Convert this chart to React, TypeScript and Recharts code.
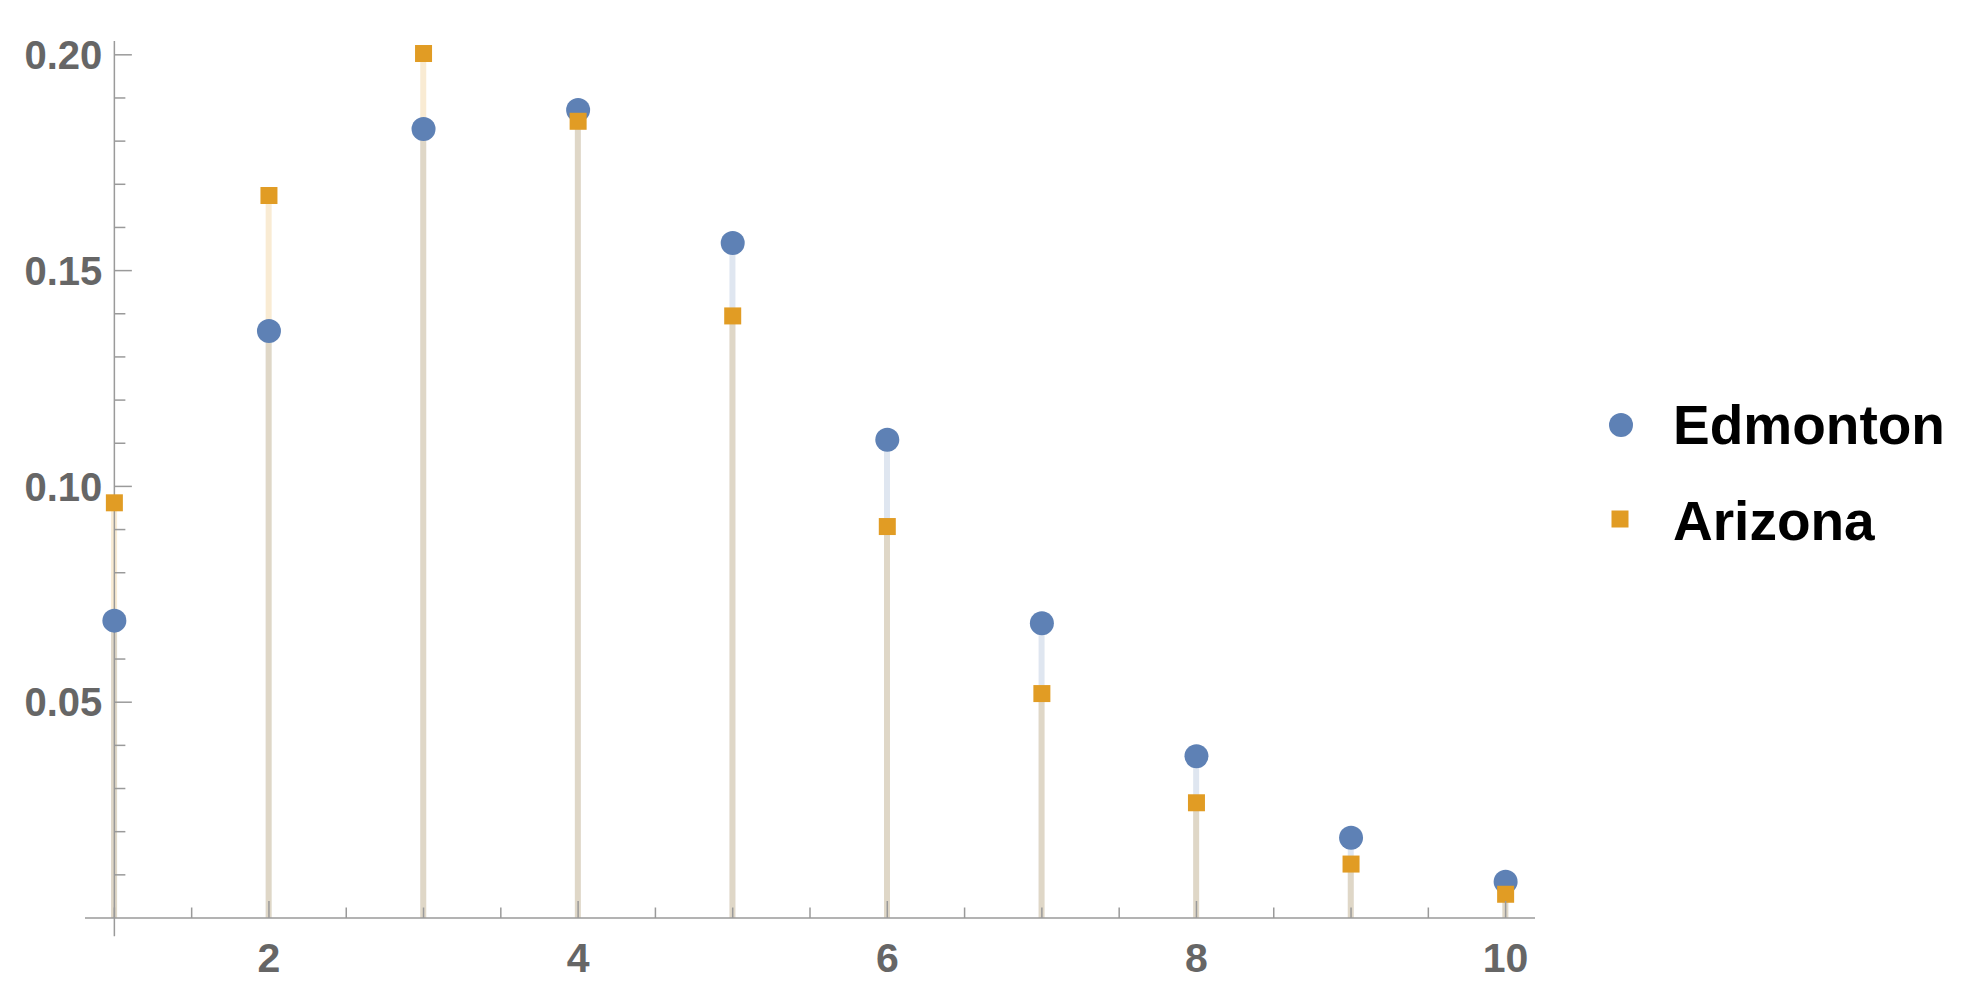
import React from 'react';
import { ComposedChart, XAxis, YAxis, Bar, Scatter, ReferenceLine } from 'recharts';

const xValues = [1, 2, 3, 4, 5, 6, 7, 8, 9, 10];
const edmonton = [0.0689, 0.136, 0.1828, 0.1872, 0.1564, 0.1108, 0.0683, 0.0375, 0.0186, 0.0084];
const arizona = [0.0962, 0.1674, 0.2003, 0.1846, 0.1395, 0.0907, 0.052, 0.0267, 0.0125, 0.0055];
const seriesNames = ['Edmonton', 'Arizona'];
const seriesColors = ['#5E81B5', '#E19C24'];

const xTicks = [1, 1.5, 2, 2.5, 3, 3.5, 4, 4.5, 5, 5.5, 6, 6.5, 7, 7.5, 8, 8.5, 9, 9.5, 10];
const xLabeled = [2, 4, 6, 8, 10];
const yMajor = [0.05, 0.1, 0.15, 0.2];
const yMajorLabels = ['0.05', '0.10', '0.15', '0.20'];
const yMinor = [0.01, 0.02, 0.03, 0.04, 0.06, 0.07, 0.08, 0.09, 0.11, 0.12, 0.13, 0.14, 0.16, 0.17, 0.18, 0.19];
const xDomain = [0.81, 10.19];
const yDomain = [0, 0.2032];
const yAxisRange = [-0.0042, 0.2032];
const yAxisAtX = 1;

const data = xValues.map((x, i) => ({ x, edmonton: edmonton[i], arizona: arizona[i] }));

const AXIS = '#9a9a9a';
const LABEL = '#666666';
const FONT = '"Liberation Sans", Arial, sans-serif';

const XTick = (props: any) => {
  const { x, y, payload } = props;
  const v = payload.value;
  const major = xLabeled.includes(v);
  return (
    <g>
      <line x1={x} x2={x} y1={y} y2={y - (major ? 17 : 10.5)} stroke={AXIS} strokeWidth={1.5} />
      {major && (
        <text x={x} y={y + 39} dy="0.355em" textAnchor="middle" fill={LABEL} fontSize={41} fontWeight="bold" fontFamily={FONT}>
          {v}
        </text>
      )}
    </g>
  );
};

const tickShape = (len: number) => (p: any) => (
  <line x1={p.x1} y1={p.y1} x2={p.x1 + len} y2={p.y1} stroke={AXIS} strokeWidth={1.5} />
);

const Circle = (p: any) => <circle cx={p.cx} cy={p.cy} r={12} fill={seriesColors[0]} />;
const Square = (p: any) => <rect x={p.cx - 8.5} y={p.cy - 8.5} width={17} height={17} fill={seriesColors[1]} />;

export default function App() {
  return (
    <div style={{ position: 'fixed', left: 0, top: 0, width: 1966, height: 999, background: '#fff' }}>
      <ComposedChart width={1966} height={999} data={data} margin={{ top: 41, left: 85, right: 431, bottom: 21 }}>
        <XAxis
          dataKey="x"
          type="number"
          domain={xDomain}
          allowDataOverflow
          ticks={xTicks}
          interval={0}
          tickSize={0}
          tickMargin={0}
          tick={<XTick />}
          height={60}
          axisLine={{ stroke: AXIS, strokeWidth: 1.5 }}
        />
        <XAxis xAxisId="b" dataKey="x" type="number" domain={xDomain} allowDataOverflow hide />
        <YAxis type="number" domain={yDomain} allowDataOverflow hide />
        <YAxis yAxisId="b" type="number" domain={yDomain} allowDataOverflow hide />
        <ReferenceLine
          segment={[{ x: yAxisAtX, y: yAxisRange[0] }, { x: yAxisAtX, y: yAxisRange[1] }]}
          stroke={AXIS}
          strokeWidth={1.5}
          ifOverflow="visible"
        />
        {yMinor.map((v) => (
          <ReferenceLine key={'m' + v} segment={[{ x: yAxisAtX, y: v }, { x: yAxisAtX, y: v }]} ifOverflow="visible" shape={tickShape(11)} />
        ))}
        {yMajor.map((v, i) => (
          <ReferenceLine
            key={'M' + v}
            segment={[{ x: yAxisAtX, y: v }, { x: yAxisAtX, y: v }]}
            ifOverflow="visible"
            shape={tickShape(17.5)}
            label={{ value: yMajorLabels[i], position: 'left', offset: 12, fill: LABEL, fontSize: 40, fontWeight: 'bold', fontFamily: FONT }}
          />
        ))}
        <Bar dataKey="edmonton" barSize={6} fill={seriesColors[0]} fillOpacity={0.2} isAnimationActive={false} />
        <Bar dataKey="arizona" xAxisId="b" yAxisId="b" barSize={6} fill={seriesColors[1]} fillOpacity={0.2} isAnimationActive={false} />
        <Scatter dataKey="edmonton" shape={<Circle />} isAnimationActive={false} />
        <Scatter dataKey="arizona" shape={<Square />} isAnimationActive={false} />
      </ComposedChart>
      <svg style={{ position: 'absolute', left: 1590, top: 380 }} width={376} height={180}>
        <circle cx={31} cy={45} r={12} fill={seriesColors[0]} />
        <text x={83} y={44} dy="0.355em" fontSize={55} fontWeight="bold" fontFamily={FONT} fill="#000">
          {seriesNames[0]}
        </text>
        <rect x={21.5} y={130.5} width={17} height={17} fill={seriesColors[1]} />
        <text x={83} y={140} dy="0.355em" fontSize={55} fontWeight="bold" fontFamily={FONT} fill="#000">
          {seriesNames[1]}
        </text>
      </svg>
    </div>
  );
}
